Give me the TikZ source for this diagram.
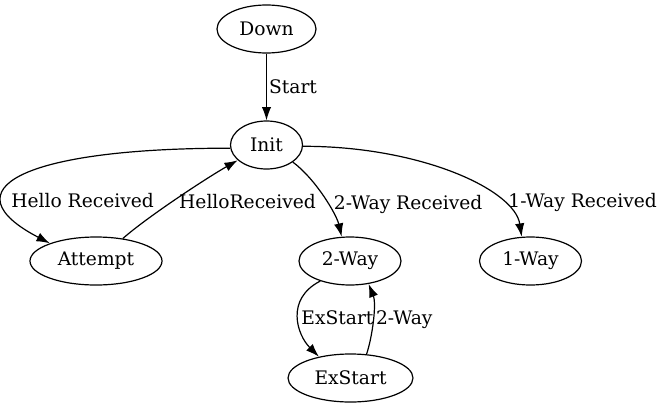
\documentclass[tikz,border=0pt]{standalone}
\usepackage{fontspec}
\setmainfont{DejaVu Serif}
\usetikzlibrary{arrows.meta,shapes.geometric}

\begin{document}
\begin{tikzpicture}[
    x=0.75pt, y=-0.75pt,
    font=\fontsize{14pt}{16pt}\selectfont,
    arr/.style={-{Latex[length=10pt,width=7pt]}, line width=0.9pt},
    statebox/.style={
      ellipse, draw, line width=0.9pt, inner sep=0pt,
      minimum width=54pt, minimum height=36pt
    },
    lbl/.style={inner sep=0pt}
  ]
    \useasboundingbox (0,0) rectangle (663,407);

    % --- Estados ---
    \node[statebox, minimum width=74.25pt] (down) at (266.5,29) {Down};
    \node[statebox] (init) at (266.5,145) {Init};
    \node[statebox, minimum width=99pt] (attempt) at (96,261) {Attempt};
    \node[statebox, minimum width=76.5pt] (twoway) at (350,261) {2-Way};
    \node[statebox, minimum width=76.5pt] (oneway) at (530.5,261) {1-Way};
    \node[statebox, minimum width=93.75pt] (exstart) at (350.5,378) {ExStart};

    % --- Transiciones ---
    \draw[arr] (down) -- node[lbl, right=1.5pt] {Start} (init);
    \draw[arr] (init.185) .. controls +(-211,0) and +(-102,-53) ..
      node[lbl, pos=0.71, right=5pt] {Hello Received} (attempt.159);
    \draw[arr] (attempt.40) .. controls +(25,-22) and +(-30,17) ..
      node[lbl, pos=0.45, right=5pt] {HelloReceived} (init.208);
    \draw[arr] (init.-33) .. controls +(23,17) and +(-5,-22) ..
      node[lbl, pos=0.58, right=4pt] {2-Way Received} (twoway.109);
    \draw[arr] (init.-2) .. controls +(118,0) and +(-7,-47) ..
      node[lbl, pos=0.75, right=5pt] {1-Way Received} (oneway.110);
    \draw[arr] (twoway.214) .. controls +(-35,18) and +(-22,-22) ..
      node[lbl, pos=0.5, right=2pt] {ExStart} (exstart.146);
    \draw[arr] (exstart.56) .. controls +(6,-18) and +(8,20) ..
      node[lbl, pos=0.5, right=2pt] {2-Way} (twoway.-51);
  \end{tikzpicture}
\end{document}
